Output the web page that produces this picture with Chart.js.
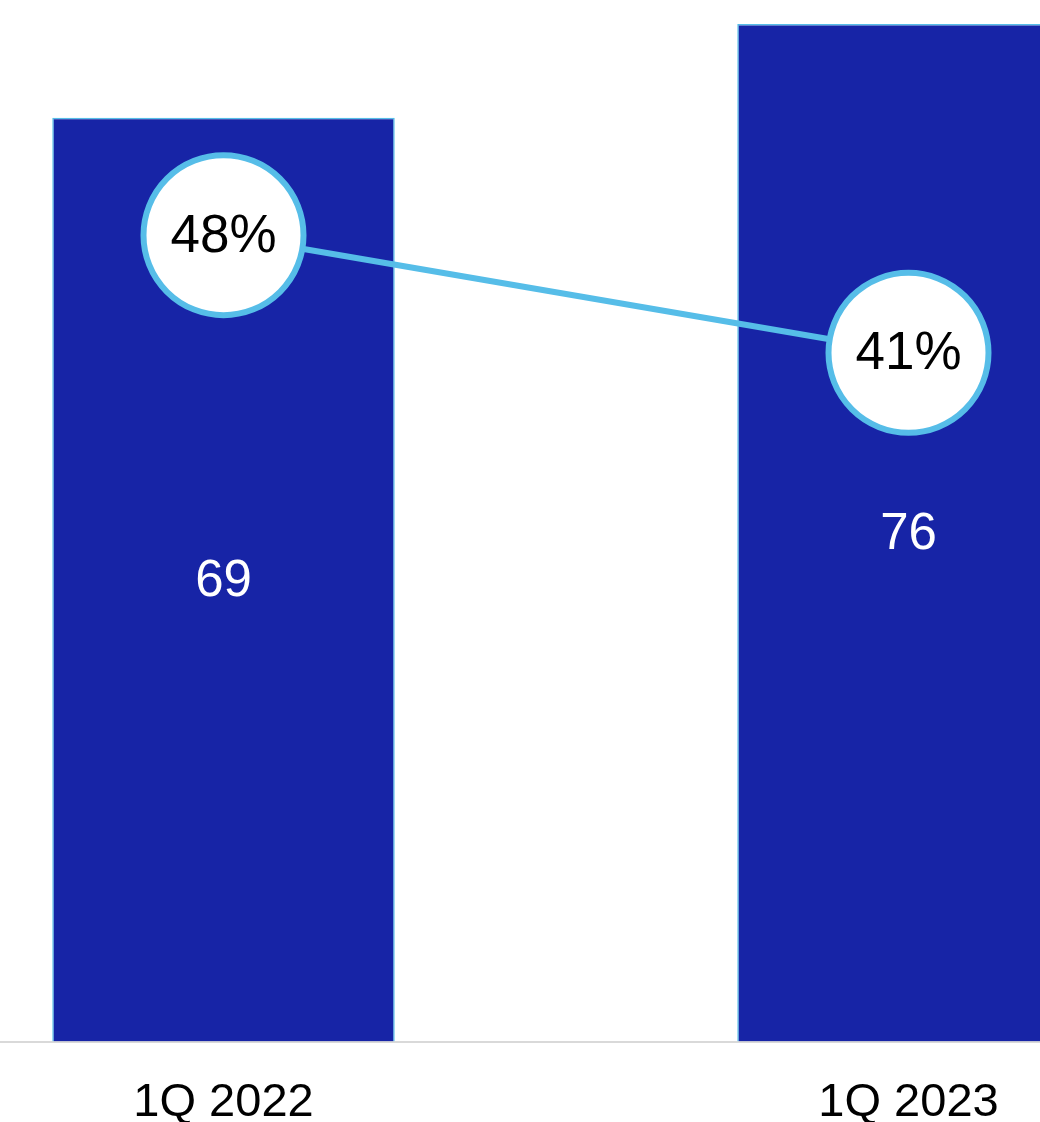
<!DOCTYPE html>
<html>
<head>
<meta charset="utf-8">
<script src="https://cdn.jsdelivr.net/npm/chart.js@4/dist/chart.umd.min.js"></script>
<style>
  html, body { margin: 0; padding: 0; background: #fff; overflow: hidden; }
  #wrap { position: absolute; left: -119px; top: 0; width: 1370px; height: 1164px; }
</style>
</head>
<body>
<div id="wrap"><canvas id="chart"></canvas></div>
<script>
// Data
const categories = ['1Q 2022', '1Q 2023'];
const volumes = [69, 76];
const shares = [48, 41];

// draw value labels on bars and inside the circles
const labelPlugin = {
  id: 'labels',
  afterDatasetsDraw(chart) {
    const ctx = chart.ctx;
    ctx.save();
    ctx.textAlign = 'center';
    ctx.textBaseline = 'middle';

    // dataset 1 = bars
    ctx.font = '51px "Liberation Sans", Arial, sans-serif';
    chart.getDatasetMeta(1).data.forEach((bar, i) => {
      ctx.fillStyle = '#ffffff';
      ctx.fillText(volumes[i], bar.x, (bar.y + bar.base) / 2 + 2);
    });
    // dataset 0 = line points
    ctx.font = '53px "Liberation Sans", Arial, sans-serif';
    chart.getDatasetMeta(0).data.forEach((pt, i) => {
      ctx.fillStyle = '#000000';
      ctx.fillText(shares[i] + '%', pt.x, pt.y + 2);
    });
    ctx.restore();
  }
};

const ctx = document.getElementById('chart').getContext('2d');
new Chart(ctx, {
  data: {
    labels: categories,
    datasets: [
      {
        type: 'line',
        data: shares,
        yAxisID: 'y2',
        borderColor: '#56bde8',
        borderWidth: 6,
        pointRadius: 80,
        pointBorderWidth: 6,
        pointBackgroundColor: '#ffffff',
        pointBorderColor: '#56bde8',
        order: 0,
        clip: false
      },
      {
        type: 'bar',
        data: volumes,
        yAxisID: 'y',
        backgroundColor: '#1724a6',
        borderColor: '#56bde8',
        borderWidth: 1.5,
        barPercentage: 0.5,
        categoryPercentage: 1.0,
        order: 1
      }
    ]
  },
  options: {
    responsive: true,
    maintainAspectRatio: false,
    animation: false,
    layout: { autoPadding: false, padding: 0 },
    plugins: {
      legend: { display: false },
      tooltip: { enabled: false }
    },
    scales: {
      x: {
        offset: true,
        grid: { display: false, drawTicks: false },
        border: { display: true, color: '#d9d9d9', width: 2 },
        ticks: {
          color: '#000000',
          padding: 33,
          font: { size: 47, family: '"Liberation Sans", Arial, sans-serif' }
        }
      },
      y: {
        display: false,
        min: 0,
        max: 77.8
      },
      y2: {
        display: false,
        min: 0,
        max: 62
      }
    }
  },
  plugins: [labelPlugin]
});
</script>
</body>
</html>
